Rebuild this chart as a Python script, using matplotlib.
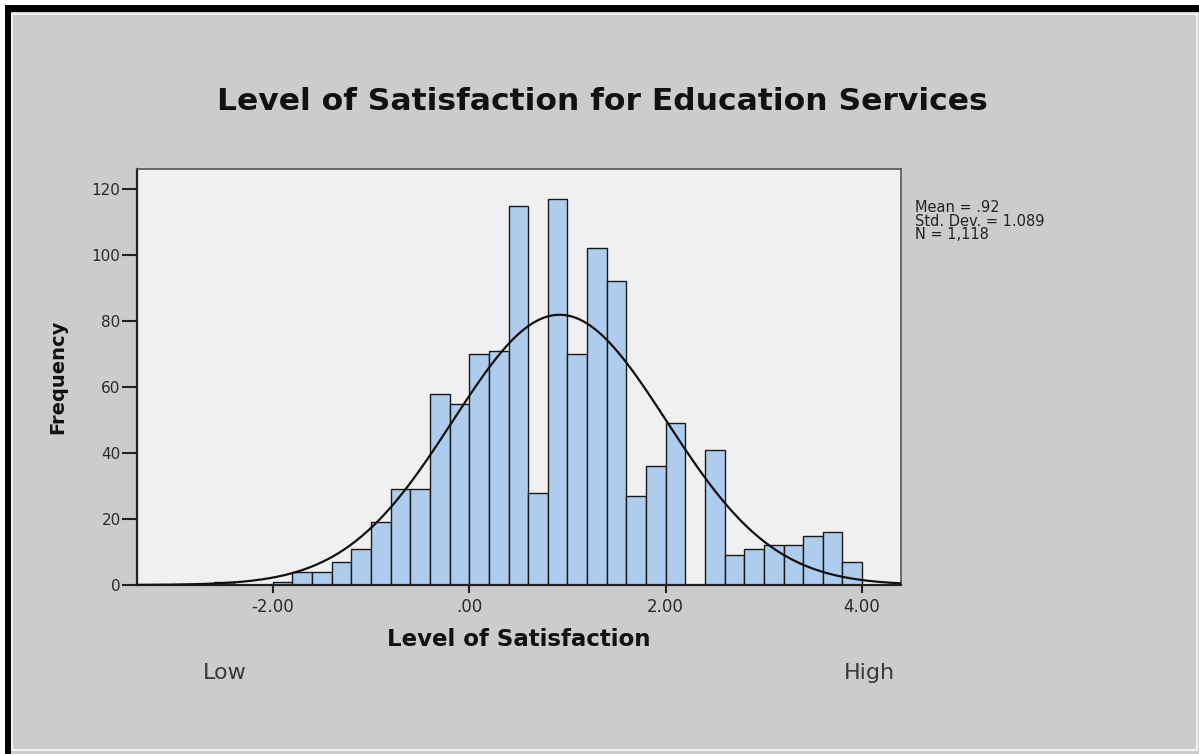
import numpy as np
import matplotlib
matplotlib.use("Agg")
import matplotlib.pyplot as plt
from matplotlib.patches import Rectangle

# histogram counts, bins of width 0.2 starting at -2.6
bin_start = -2.6
bin_width = 0.2
counts = [1, 0, 0,
          1, 4, 4, 7, 11, 19, 29, 29, 58, 55,
          70, 71, 115, 28, 117, 70, 102, 92, 27, 36,
          49, 0, 41, 9, 11, 12, 12, 15, 16, 7]

mean, std_dev, n_obs = 0.92, 1.089, 1118
x_ticks = [-2.0, 0.0, 2.0, 4.0]
x_labels = ["-2.00", ".00", "2.00", "4.00"]
y_ticks = [0, 20, 40, 60, 80, 100, 120]

W, H = 1199, 754
# the reference looks like a horizontally stretched Arial; DejaVu is the closer width
plt.rcParams["font.family"] = ["DejaVu Sans"]

fig = plt.figure(figsize=(W / 100, H / 100), dpi=100)
fig.patch.set_facecolor("#cccccc")


def px_rect(x0, y0, x1, y1, **kw):
    # rectangle in pixel coords (top-left origin)
    fig.patches.append(Rectangle((x0 / W, 1 - y1 / H), (x1 - x0) / W, (y1 - y0) / H,
                                 transform=fig.transFigure, **kw))


# outer frame
px_rect(0, 0, W, 5, color="white", lw=0)
px_rect(0, 0, 5, H, color="white", lw=0)
px_rect(5, 5, W, 12, color="black", lw=0)
px_rect(5, 5, 11, H, color="black", lw=0)
px_rect(12.5, 13.5, 1197, 750, fill=False, ec="#f2f2f2", lw=1.5)

ax = fig.add_axes([137.3 / W, 1 - 585 / H, (901 - 137.3) / W, (585 - 169.3) / H])
ax.set_facecolor("#f0f0f0")

lefts = [bin_start + i * bin_width for i in range(len(counts))]
keep = [(l, c) for l, c in zip(lefts, counts) if c > 0]
ax.bar([k[0] for k in keep], [k[1] for k in keep], width=bin_width, align="edge",
       color="#aecdee", edgecolor="#1a1a1a", linewidth=1.0, zorder=2)

xs = np.linspace(-3.38, 4.396, 400)
ys = n_obs * bin_width * np.exp(-0.5 * ((xs - mean) / std_dev) ** 2) / (std_dev * np.sqrt(2 * np.pi))
ax.plot(xs, ys, color="#111111", lw=1.6, zorder=3)

ax.set_xlim(-3.38, 4.396)
ax.set_ylim(0, 126.0)
ax.set_xticks(x_ticks)
ax.set_xticklabels(x_labels)
ax.set_yticks(y_ticks)
ax.tick_params(axis="both", direction="out", width=1.5, color="#222222",
               labelcolor="#2a2a2a")
ax.tick_params(axis="y", length=11, pad=1, labelsize=11)
ax.tick_params(axis="x", length=6, pad=3, labelsize=12)
for side in ["left", "bottom"]:
    ax.spines[side].set_linewidth(1.6)
    ax.spines[side].set_color("#222222")
for side in ["top", "right"]:
    ax.spines[side].set_linewidth(1.2)
    ax.spines[side].set_color("#555555")

fig.text(602 / W, 1 - 101 / H, "Level of Satisfaction for Education Services",
         ha="center", va="center", fontsize=22.6, fontweight="bold", color="#111111")
fig.text(519 / W, 1 - 640 / H, "Level of Satisfaction", ha="center", va="center",
         fontsize=16.5, fontweight="bold", color="#111111")
fig.text(58 / W, 1 - 377 / H, "Frequency", ha="center", va="center", rotation=90,
         fontsize=14, fontweight="bold", color="#111111")
fig.text(225 / W, 1 - 673 / H, "Low", ha="center", va="center", fontsize=16, color="#3a3a3a")
fig.text(869 / W, 1 - 673 / H, "High", ha="center", va="center", fontsize=16, color="#3a3a3a")
fig.text(915 / W, 1 - 200 / H, "Mean = .92\nStd. Dev. = 1.089\nN = 1,118",
         ha="left", va="top", fontsize=10.5, color="#222222", linespacing=0.88)

fig.savefig("out.png", dpi=100, facecolor=fig.get_facecolor())
